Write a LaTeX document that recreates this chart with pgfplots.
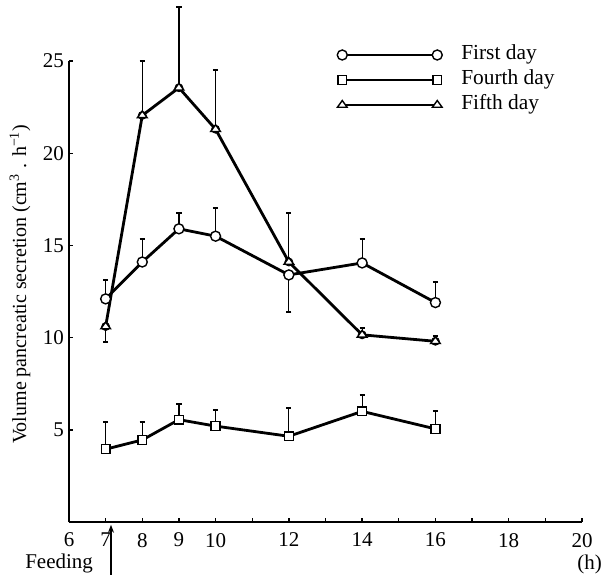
\documentclass[border=0pt]{standalone}
\usepackage{fontspec}
\setmainfont{Liberation Serif}
\usepackage{pgfplots}
\pgfplotsset{compat=1.18}
\usetikzlibrary{arrows.meta}
\begin{document}
\begin{tikzpicture}
\begin{axis}[
  name=ax,
  scale only axis,
  width=256.5pt, height=230.5pt,
  xmin=6, xmax=20, ymin=0, ymax=25,
  axis lines*=left,
  axis line style={line width=0.7pt},
  clip=false,
  tick align=inside,
  major tick length=2.2pt,
  every tick/.style={line width=0.7pt, black},
  xtick={6,...,20},
  xticklabels={6,7,8,9,10,,12,,14,,16,,18,,20},
  ytick={5,10,15,20,25},
  /pgf/number format/assume math mode=true,
  tick label style={font=\fontsize{10.5pt}{12pt}\selectfont},
  xticklabel style={yshift=-2pt},
  yticklabel style={xshift=1pt},
  ylabel={Volume pancreatic secretion (cm\textsuperscript{3} . h\textsuperscript{−1})},
  ylabel style={at={(axis description cs:-0.0955,0.516)}, anchor=center, font=\fontsize{10pt}{12pt}\selectfont},
  legend style={draw=none, fill=none, at={(axis cs:13.31,23.97)}, anchor=west,
    inner sep=0pt, row sep=3.5pt, font=\fontsize{10.7pt}{12pt}\selectfont,
    nodes={inner sep=0pt, text height=7pt, text depth=2pt},
    /tikz/every odd column/.append style={column sep=9.5pt}},
  legend cell align=left,
  legend image code/.code={\draw[#1, line width=1.4pt] plot coordinates {(0pt,0pt) (47.5pt,0pt)};},
  every axis plot/.append style={black},
]
% error bars (drawn first)
\addplot[forget plot, only marks, mark=none, error bars/.cd, y dir=plus, y explicit,
  error bar style={line width=0.6pt, black}, error mark options={rotate=90, mark size=1.3pt, line width=1pt, black}]
  coordinates {
  (7,12.1) +- (0,1.0)
  (8,14.1) +- (0,1.25)
  (9,15.9) +- (0,0.85)
  (10,15.5) +- (0,1.55)
  (14,14.05) +- (0,1.3)
  (16,11.9) +- (0,1.1)
  (7,3.95) +- (0,1.45)
  (8,4.45) +- (0,1.0)
  (9,5.55) +- (0,0.85)
  (10,5.2) +- (0,0.9)
  (12,4.65) +- (0,1.55)
  (14,6.0) +- (0,0.87)
  (16,5.05) +- (0,0.95)
  (8,22.05) +- (0,2.95)
  (9,23.55) +- (0,4.4)
  (10,21.3) +- (0,3.2)
  (12,14.1) +- (0,2.65)
  (14,10.15) +- (0,0.35)
  (16,9.8) +- (0,0.3)
  };
\addplot[forget plot, only marks, mark=none, error bars/.cd, y dir=minus, y explicit,
  error bar style={line width=0.6pt, black}, error mark options={rotate=90, mark size=1.3pt, line width=1pt, black}]
  coordinates {
  (12,13.4) +- (0,2.0)
  (7,10.6) +- (0,0.85)
  };
% series
\addplot[line width=1.4pt, mark=*, mark size=2.5pt, mark options={solid, draw=black, fill=white, line width=0.7pt}]
  coordinates {(7,12.1) (8,14.1) (9,15.9) (10,15.5) (12,13.4) (14,14.05) (16,11.9)};
\addlegendentry{First day}
\addplot[line width=1.4pt, mark=square*, mark size=2.2pt, mark options={solid, draw=black, fill=white, line width=0.7pt}]
  coordinates {(7,3.95) (8,4.45) (9,5.55) (10,5.2) (12,4.65) (14,6.0) (16,5.05)};
\addlegendentry{Fourth day}
\addplot[line width=1.4pt, mark=triangle*, mark size=2.8pt, mark options={solid, draw=black, fill=white, line width=0.7pt, yscale=0.8}]
  coordinates {(7,10.6) (8,22.05) (9,23.55) (10,21.3) (12,14.1) (14,10.15) (16,9.8)};
\addlegendentry{Fifth day}
% annotations
\node[anchor=base, font=\fontsize{10.5pt}{12pt}\selectfont] at (axis cs:5.73,-2.5) {Feeding};
\node[anchor=base, font=\fontsize{10.5pt}{12pt}\selectfont] at (axis cs:20.21,-2.55) {(h)};
\draw[line width=0.6pt, -{Stealth[length=4pt,width=3pt]}] (axis cs:7.146,-2.85) -- (axis cs:7.146,-0.15);
\end{axis}
\pgfresetboundingbox
\path[use as bounding box] ([xshift=-34.5pt, yshift=-26pt]ax.south west) rectangle ([xshift=10.5pt, yshift=30.5pt]ax.north east);
\end{tikzpicture}
\end{document}
